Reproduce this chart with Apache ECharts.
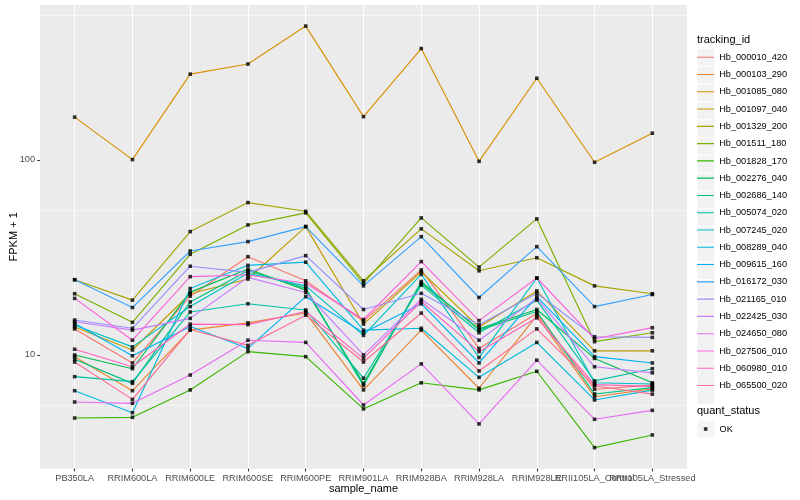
<!DOCTYPE html>
<html><head><meta charset="utf-8">
<script src="https://cdn.jsdelivr.net/npm/echarts@6/dist/echarts.min.js"></script>
<style>html,body{margin:0;padding:0;background:#fff}#c{width:800px;height:500px}</style>
</head><body><div id="c"></div>
<script>
// ---- data ----
const categories = ['PB350LA','RRIM600LA','RRIM600LE','RRIM600SE','RRIM600PE','RRIM901LA','RRIM928BA','RRIM928LA','RRIM928LE','RRII105LA_Control','RRII105LA_Stressed'];
const trackingIds = ['Hb_000010_420','Hb_000103_290','Hb_001085_080','Hb_001097_040','Hb_001329_200','Hb_001511_180','Hb_001828_170','Hb_002276_040','Hb_002686_140','Hb_005074_020','Hb_007245_020','Hb_008289_040','Hb_009615_160','Hb_016172_030','Hb_021165_010','Hb_022425_030','Hb_024650_080','Hb_027506_010','Hb_060980_010','Hb_065500_020'];
const lineColors = ['#F8766D','#EA8331','#D89000','#C09B00','#A3A500','#7CAE00','#39B600','#00BB4E','#00BF7D','#00C1A3','#00BFC4','#00BAE0','#00B0F6','#35A2FF','#9590FF','#C77CFF','#E76BF3','#FA62DB','#FF62BC','#FF6C91'];
const yTicks = [10, 100];
const quantStatus = ['OK'];

const Hb_000010_420 = [13.6, 9.1, 20.0, 31.9, 24.0, 14.9, 27.3, 10.8, 16.3, 6.67, 7.0];
const Hb_000103_290 = [9.8, 6.56, 13.4, 14.6, 16.4, 6.62, 13.4, 6.75, 15.9, 6.11, 6.7];
const Hb_001085_080 = [165.6, 100.3, 275, 310, 485, 166.5, 372, 98.3, 262, 97.2, 137];
const Hb_001097_040 = [13.9, 10.6, 20.6, 24.5, 45.5, 14.4, 26.7, 13.9, 21.3, 10.5, 10.5];
const Hb_001329_200 = [24.3, 19.1, 42.9, 60.4, 54.5, 24.0, 44.3, 27.0, 31.5, 22.6, 20.6];
const Hb_001511_180 = [20.6, 14.7, 32.8, 46.4, 53.5, 23.3, 50.4, 28.2, 49.8, 11.7, 13.0];
const Hb_001828_170 = [4.75, 4.79, 6.62, 10.4, 9.8, 5.29, 7.2, 6.62, 8.25, 3.35, 3.89];
const Hb_002276_040 = [10.0, 8.5, 21.0, 27.6, 21.5, 7.15, 23.3, 13.6, 17.1, 9.6, 7.2];
const Hb_002686_140 = [9.5, 7.15, 18.7, 27.0, 22.0, 6.96, 23.8, 13.4, 16.7, 6.31, 6.8];
const Hb_005074_020 = [7.74, 7.3, 16.6, 18.3, 17.0, 7.6, 22.8, 13.0, 19.1, 7.36, 8.5];
const Hb_007245_020 = [14.2, 11.0, 17.7, 26.2, 22.6, 12.6, 25.9, 9.7, 24.8, 7.2, 7.1];
const Hb_008289_040 = [6.56, 5.06, 21.9, 28.8, 29.9, 13.4, 13.7, 7.68, 11.6, 5.88, 6.6];
const Hb_009615_160 = [14.5, 9.9, 14.0, 10.8, 19.9, 13.0, 18.3, 9.1, 19.9, 9.8, 9.1];
const Hb_016172_030 = [24.3, 17.5, 34.1, 38.1, 45.5, 22.6, 40.4, 19.7, 35.9, 17.7, 20.4];
const Hb_021165_010 = [15.1, 13.7, 28.5, 26.5, 32.3, 17.1, 20.7, 14.3, 20.7, 12.4, 12.3];
const Hb_022425_030 = [14.8, 13.4, 15.4, 25.0, 20.9, 10.0, 19.3, 11.9, 19.5, 8.7, 8.1];
const Hb_024650_080 = [5.74, 5.65, 7.89, 11.9, 11.6, 5.54, 9.0, 4.43, 9.4, 4.68, 5.2];
const Hb_027506_010 = [19.5, 11.9, 25.2, 25.7, 23.3, 15.2, 30.1, 15.0, 24.8, 12.1, 13.8];
const Hb_060980_010 = [10.7, 8.7, 14.4, 14.3, 16.7, 9.6, 18.8, 10.4, 15.5, 7.05, 6.9];
const Hb_065500_020 = [9.2, 5.92, 13.5, 11.2, 16.0, 9.2, 16.4, 8.28, 13.6, 6.95, 6.3];

const seriesValues = [Hb_000010_420, Hb_000103_290, Hb_001085_080, Hb_001097_040, Hb_001329_200, Hb_001511_180, Hb_001828_170, Hb_002276_040, Hb_002686_140, Hb_005074_020, Hb_007245_020, Hb_008289_040, Hb_009615_160, Hb_016172_030, Hb_021165_010, Hb_022425_030, Hb_024650_080, Hb_027506_010, Hb_060980_010, Hb_065500_020];

// ---- layout ----
const font = '"Liberation Sans", Arial, Helvetica, sans-serif';
const panel = {l: 40, r: 687, t: 5, b: 468.7};
const expand = 0.6;
const band = (panel.r - panel.l) / (categories.length - 1 + 2 * expand);
const innerL = panel.l + expand * band, innerR = panel.r - expand * band;

// ggplot-like 5% expansion of the log range
const allVals = seriesValues.flat();
const lo = Math.log10(Math.min(...allVals)), hi = Math.log10(Math.max(...allVals));
const pad = 0.05 * (hi - lo);
const yMin = Math.pow(10, lo - pad), yMax = Math.pow(10, hi + pad);

const lineSeries = trackingIds.map((id, k) => ({
  type: 'line', name: id, xAxisIndex: 1, yAxisIndex: 1,
  data: seriesValues[k], symbol: 'none', showSymbol: false,
  itemStyle: {color: lineColors[k]},
  lineStyle: {color: lineColors[k], width: 1.15},
  emphasis: {disabled: true}, silent: true, z: 2
}));
const pointData = [];
seriesValues.forEach(vals => vals.forEach((v, i) => pointData.push([i, v])));
const pointSeries = {
  type: 'scatter', name: quantStatus[0], xAxisIndex: 1, yAxisIndex: 1,
  data: pointData, symbol: 'rect', symbolSize: 3.6,
  itemStyle: {color: '#000'}, emphasis: {disabled: true}, silent: true, z: 3
};

const keySize = 17.28;
const legendTop = 57.3 - keySize / 2;
const okCenter = 429;
const txt = 9.2;
const legendText = {color: '#000', fontSize: txt, fontFamily: font, lineHeight: keySize, height: keySize, verticalAlign: 'middle'};

const option = {
  animation: false,
  textStyle: {fontFamily: font},
  title: [
    {text: 'tracking_id', left: 697, top: 34, padding: 0, textStyle: {fontSize: 11, fontWeight: 'normal', color: '#000', fontFamily: font}},
    {text: 'quant_status', left: 697, top: 405, padding: 0, textStyle: {fontSize: 11, fontWeight: 'normal', color: '#000', fontFamily: font}}
  ],
  grid: [
    {left: panel.l, right: 800 - panel.r, top: panel.t, bottom: 500 - panel.b, show: true, backgroundColor: '#EBEBEB', borderWidth: 0, containLabel: false, outerBoundsMode: 'none'},
    {left: innerL, right: 800 - innerR, top: panel.t, bottom: 500 - panel.b, show: false, containLabel: false, outerBoundsMode: 'none'}
  ],
  xAxis: [
    {type: 'value', gridIndex: 0, show: false, min: 0, max: 1},
    {type: 'category', gridIndex: 1, data: categories, boundaryGap: false,
     axisLine: {show: false},
     axisTick: {show: true, length: 2.75, interval: 0, lineStyle: {color: '#333333', width: 1.07}},
     axisLabel: {interval: 0, fontSize: txt, color: '#4D4D4D', margin: 5, fontFamily: font},
     splitLine: {show: true, interval: 0, lineStyle: {color: '#FFFFFF', width: 1.07}},
     name: 'sample_name', nameLocation: 'middle', nameGap: 15, nameMoveOverlap: false,
     nameTextStyle: {fontSize: 11, color: '#000', fontFamily: font}}
  ],
  yAxis: [
    {type: 'log', logBase: 10, gridIndex: 0, min: yMin, max: yMax,
     axisLine: {show: false},
     axisTick: {show: true, length: 2.75, customValues: yTicks, lineStyle: {color: '#333333', width: 1.07}},
     axisLabel: {customValues: yTicks, fontSize: txt, color: '#4D4D4D', margin: 5, fontFamily: font},
     splitLine: {show: true, showMinLine: false, showMaxLine: false, lineStyle: {color: '#FFFFFF', width: 1.07}},
     minorTick: {show: false, splitNumber: 2},
     minorSplitLine: {show: true, lineStyle: {color: '#FFFFFF', width: 0.53}},
     name: 'FPKM + 1', nameLocation: 'middle', nameGap: 21, nameRotate: 90, nameMoveOverlap: false,
     nameTextStyle: {fontSize: 11, color: '#000', fontFamily: font}},
    {type: 'log', logBase: 10, gridIndex: 1, min: yMin, max: yMax, show: false,
     splitLine: {show: false}}
  ],
  legend: [
    {data: trackingIds, orient: 'vertical', left: 697, top: legendTop, padding: 0,
     itemWidth: keySize, itemHeight: keySize, itemGap: 0, icon: 'rect', selectedMode: false,
     itemStyle: {color: '#F2F2F2', borderColor: '#FFFFFF', borderWidth: 0.5},
     textStyle: Object.assign({}, legendText, {color: 'rgba(0,0,0,0)'}), z: 4},
    {data: trackingIds, orient: 'vertical', left: 697, top: legendTop, padding: 0,
     itemWidth: keySize, itemHeight: keySize, itemGap: 0, icon: 'path://M0,8H17V9.1H0Z M0,0H0.01V17.28H0Z', selectedMode: false,
     itemStyle: {borderWidth: 0},
     textStyle: legendText, z: 5},
    {data: quantStatus, orient: 'vertical', left: 697, top: okCenter - keySize / 2, padding: 0,
     itemWidth: keySize, itemHeight: keySize, itemGap: 0, icon: 'rect', selectedMode: false,
     itemStyle: {color: '#F2F2F2', borderColor: '#FFFFFF', borderWidth: 0.5},
     textStyle: legendText, z: 4},
    {data: quantStatus, orient: 'vertical', left: 697 + keySize / 2 - 1.8, top: okCenter - 1.8, padding: 0,
     itemWidth: 3.6, itemHeight: 3.6, icon: 'rect', selectedMode: false,
     itemStyle: {color: '#000', borderWidth: 0},
     formatter: () => '', textStyle: {fontSize: 1}, z: 5}
  ],
  series: [...lineSeries, pointSeries]
};

const chart = echarts.init(document.getElementById('c'), null, {renderer: 'canvas'});
chart.setOption(option);
</script>
</body></html>
